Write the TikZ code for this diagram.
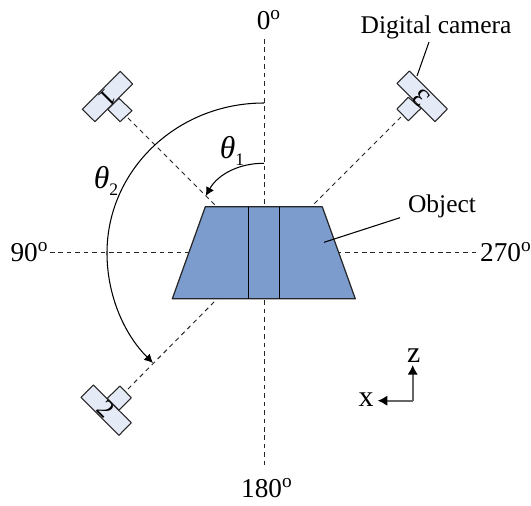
\documentclass[tikz,border=0pt]{standalone}
\usepackage{amsmath,amssymb}
\usepackage{fontspec}
\setmainfont{Liberation Serif}
\usetikzlibrary{arrows.meta}
\definecolor{objblue}{HTML}{7C9CCE}
\definecolor{camblue}{HTML}{E4EAF6}
\newcommand{\degsup}{\raisebox{5.5pt}{\fontsize{11}{11}\selectfont o}}
\newcommand{\thetasym}[1]{{\fontsize{18}{20}\selectfont\itshape θ}\raisebox{-4pt}{\fontsize{10}{10}\selectfont #1}}
\tikzset{
  dashline/.style={line width=0.55pt,dash pattern=on 2.6pt off 2.2pt,black!85},
  campart/.style={draw=black!85,fill=camblue,line width=0.6pt,line join=round},
  angarc/.style={line width=0.6pt,-{Latex[length=5pt,width=5pt]}},
  leader/.style={line width=0.6pt},
  axisline/.style={draw=black!60,line width=1pt,-{Latex[length=5.5pt,width=6pt,color=black]}},
  lbl/.style={font=\fontsize{14.5}{18}\selectfont,inner sep=0pt},
  deglbl/.style={font=\fontsize{15.5}{18}\selectfont,inner sep=0pt},
  axlbl/.style={font=\fontsize{17}{20}\selectfont,inner sep=0pt}
}
\begin{document}
\begin{tikzpicture}[x=0.02cm,y=-0.02cm]
\useasboundingbox (0,0) rectangle (531,505);
% dashed axes
\coordinate (top) at (264.3,39);
\coordinate (bot) at (264.3,467);
\coordinate (lft) at (50,252.7);
\coordinate (rgt) at (480,252.7);
\draw[dashline] (top) -- (bot);
\draw[dashline] (lft) -- (rgt);
% viewing lines
\coordinate (lens1) at (128,118);
\coordinate (lens2) at (128,389);
\coordinate (lens3) at (401,117);
\coordinate (hit1) at (217,207);
\coordinate (hit2) at (217,299);
\coordinate (hit3) at (311,207);
\draw[dashline] (lens1) -- (hit1);
\draw[dashline] (lens2) -- (hit2);
\draw[dashline] (lens3) -- (hit3);
% object
\fill[objblue,draw=black!85,line width=0.7pt,line join=round] (205.3,206.8) -- (322.3,206.8) -- (355.3,298.8) -- (172.3,298.8) -- cycle;
\draw[line width=0.7pt] (248.2,206.8) -- (248.2,298.8);
\draw[line width=0.7pt] (279.4,206.8) -- (279.4,298.8);
% cameras
\draw[campart] (107.7,109.3) -- (119,98.3) -- (132,110.7) -- (120,121.7) -- cycle;
\draw[campart] (120.3,71.3) -- (132.7,84) -- (95,121.7) -- (82.3,109.3) -- cycle;
\draw[campart] (107.3,398.3) -- (120,386) -- (131.3,397.7) -- (119,410) -- cycle;
\draw[campart] (93.3,385) -- (131.3,422.7) -- (119,435.3) -- (81,397.3) -- cycle;
\draw[campart] (408.3,97.3) -- (397,109) -- (408.3,120.7) -- (421,108.3) -- cycle;
\draw[campart] (409.3,71) -- (447.3,109) -- (435,121.7) -- (397,83.3) -- cycle;
\node[lbl,rotate=-135] (num1) at (108,97.5) {1};
\node[lbl,rotate=-45] (num2) at (106,409) {2};
\node[lbl,rotate=135] (num3) at (421.5,98) {3};
% angle arcs
\coordinate (arcastart) at (264,163.3);
\coordinate (arcaend) at (205.7,196);
\coordinate (arcbstart) at (264,103);
\coordinate (arcbmid) at (107,253);
\coordinate (arcbend) at (153,363);
\draw[angarc] (arcastart) .. controls (240,163) and (218,174) .. (arcaend);
\draw[angarc] (arcbstart) .. controls (177,103) and (107,170) .. (arcbmid) .. controls (107,294.6) and (123.6,333.6) .. (arcbend);
\node[lbl] (thetaone) at (232,151) {\thetasym{1}};
\node[lbl] (thetatwo) at (106,181) {\thetasym{2}};
% angle labels
\node[deglbl] (deg0) at (268.5,20) {0\degsup};
\node[deglbl] (deg90) at (29,252) {90\degsup};
\node[deglbl] (deg270) at (505.5,252) {270\degsup};
\node[deglbl] (deg180) at (266.5,488) {180\degsup};
% leaders
\node[lbl] (camlabel) at (436,27) {Digital camera};
\node[lbl] (objlabel) at (442,206) {Object};
\coordinate (camfoot) at (417,76);
\coordinate (camtop) at (429,42);
\coordinate (objfoot) at (324,242.3);
\coordinate (objtop) at (400,217.7);
\draw[leader] (camtop) -- (camfoot);
\draw[leader] (objtop) -- (objfoot);
% axes
\coordinate (origin) at (412.7,400.7);
\coordinate (ztip) at (412.7,365);
\coordinate (xtip) at (377.7,400.7);
\draw[axisline] (origin) -- (ztip);
\draw[axisline] (origin) -- (xtip);
\node[axlbl] (zlabel) at (413.7,356) {z};
\node[axlbl] (xlabel) at (366,400) {x};
\end{tikzpicture}
\end{document}
